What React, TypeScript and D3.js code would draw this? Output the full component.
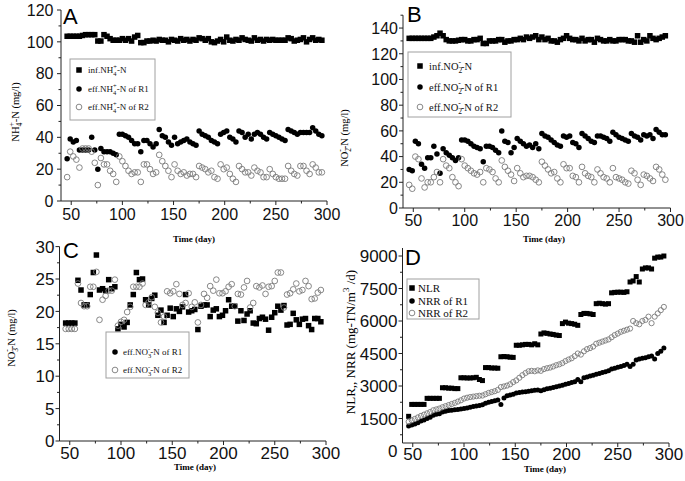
import React from "react";
import * as d3 from "d3";

// ---------- DATA ----------
const days = [46,49,52,55,58,61,64,67,70,73,76,79,82,85,88,91,94,97,100,103,106,109,112,115,118,121,124,127,130,133,136,139,142,145,148,151,154,157,160,163,166,169,172,175,178,181,184,187,190,193,196,199,202,205,208,211,214,217,220,223,226,229,232,235,238,241,244,247,250,253,256,259,262,265,268,271,274,277,280,283,286,289,292,295];

// Panel A: NH4+-N (mg/l)
const aInf = [103.5,103.5,103.5,103.5,103.5,104,104.5,104.5,104.5,104.5,
  100.5,100.5,104.5,103.5,102,101,101,101,102,101,
  102,100.5,103,104,99.5,99.5,100.5,100.5,101,100.5,
  101.5,101,101,100,101.5,101,100.5,102,101,101.5,
  100.5,101.5,101,102.5,102,101,102,100,99.5,100.5,
  101.5,100,103,101,100.5,101.5,101,102.5,101.5,101,
  100.5,102.5,101,101.5,100.5,101.5,101,101.5,101,101,
  101,101,102.5,102,100.5,101,101.5,102.5,100,101.5,
  102.5,101,101.5,101];
const aR1 = [26.5,39,37,38,32,32,32,32,40,32,
  20,33,31,31,31,30,29,42,42,41,
  40,38,36,36,31,38,38,36,34,36,
  45,41,40,37,35,40,36,37,38,39,
  37,36,35,44,42,41,40,38,37,36,
  42,43,44,40,39,37,44,43,40,42,
  39,42,43,42,40,39,43,42,41,40,
  39,38,45,44,43,42,43,43,43,43,
  46,44,42,41];
const aR2 = [15,31,28,26,21,33,33,33,31,24,
  10,27,23,23,19,17,12,28,25,22,
  19,17,18,18,12,23,23,20,17,18,
  29,25,22,19,15,23,19,17,18,16,
  17,17,15,22,21,20,18,19,15,14,
  23,20,21,17,14,12,22,20,18,18,
  16,21,19,18,15,15,20,17,15,14,
  14,14,22,19,17,16,22,22,19,17,
  23,21,18,18];

// Panel B: NO2--N (mg/l)
const bInf = [132,132,132,132,132,132,132,132,133,134,
  136,134,131,130,130,130,130.5,131,131,130,
  130,131,131,132,128,128,130,130,130,131,
  131,129,130,130,131,131,132,131,133,132,
  133,134,131,133,131,132,130,130,129,131,
  132,134,132,131,131,130,132,130,131,131,
  129,132,131,130,130,131,130,130,131,131,
  131,130,130,129,134,129,131,130,134,132,
  131,132,133,134];
const bR1 = [30,29,52,50,34,31,39,39,48,42,
  27,46,43,41,39,37,39,53,53,52,
  50,48,47,46,36,48,48,47,45,43,
  60,52,51,43,47,54,52,50,48,49,
  47,50,46,58,56,55,53,51,49,48,
  56,55,56,51,50,47,58,56,54,52,
  51,56,56,55,54,52,59,57,55,54,
  53,52,58,56,55,53,57,56,57,54,
  61,59,57,57];
const bR2 = [18,15,40,38,23,16,20,20,24,28,
  20,38,33,31,24,20,17,38,33,31,
  29,27,26,28,20,31,30,28,23,20,
  37,32,29,26,21,31,27,24,25,25,
  24,22,20,36,33,30,27,28,23,20,
  34,31,31,25,24,20,32,27,25,24,
  20,30,27,24,23,20,31,24,23,22,
  20,19,29,27,22,18,26,25,23,21,
  32,30,26,22];

// Panel C: NO3--N (mg/l)
const cR1 = [18.2,18.2,18.2,18.2,24.8,23.3,21,21,22.6,26,
  28.7,23.3,23.5,23.2,24.9,23.5,23.8,17.3,18,17.6,
  18.3,21,22.6,26,24.9,25,21.8,21,22,22.5,
  19.4,20.2,18.3,19.4,20.5,19.2,20.4,20,20.7,22.6,
  19.9,20.1,20.3,17.2,20.8,21,21,19.2,20.2,20.4,
  19.2,19.4,20.1,21.8,20.8,20.8,18.5,20.1,18.6,19.6,
  20.1,18.2,18.1,18.9,19.1,18.8,17.1,19.1,19.8,20.8,
  20.2,20.9,17.9,18,19.7,18.7,18,18.8,18.9,17.8,
  17.2,18.9,18.9,18.4];
const cR2 = [17.3,17.3,17.3,17.3,24.3,21.3,20.8,20.8,23.8,23.8,
  26.1,18.7,21.8,22.4,23.2,23.2,24.9,17.8,18.4,18.7,
  19.9,20.7,23.8,23.8,23.8,24.3,21,21.4,22.2,20.7,
  19.8,18.3,19.2,23.1,22.8,23.1,24.2,22.7,21,21.3,
  22.8,20.7,21.4,18.3,21,22.7,22.1,23.9,23.2,24.9,
  22.8,22.8,23.1,23.8,24.2,20.8,22.7,22.6,23.7,24.7,
  20.6,21.3,23.9,23.7,24,22.7,23.8,23.9,24.7,26,
  26,20.6,22.6,22.8,23.4,24.3,23.1,23.3,24.7,23.9,
  21.9,22,22.9,23.3];

// Panel D: NLR, NRR (mg-TN/m3/d)
const dNLR = [1600,2150,2150,2150,2150,2150,2430,2430,2430,2430,
  2430,2920,2920,2900,2900,2880,2880,3380,3380,3370,
  3370,3380,3400,3300,3250,3850,3850,3830,3830,3820,
  4350,4360,4350,4330,4320,4880,4880,4900,4920,4920,
  4900,4950,4900,5400,5450,5430,5400,5380,5350,5330,
  5880,5950,5900,5880,5850,5800,6300,6350,6350,6330,
  6300,6800,6820,6800,6780,6800,7300,7320,7330,7330,
  7320,7350,7800,7850,8050,7800,8400,8450,8450,8400,
  8900,8950,8950,9000];
const dR1 = [1150,1200,1250,1300,1380,1430,1500,1560,1650,1700,
  1720,1800,1840,1870,1880,1900,1920,1940,1960,1990,
  2020,2050,2080,2100,2130,2200,2250,2280,2320,2350,
  2150,2450,2550,2580,2620,2680,2700,2720,2740,2760,
  2780,2800,2810,2780,2830,2870,2900,2930,2960,3000,
  3040,3080,3120,3160,3200,3300,3200,3380,3420,3460,
  3500,3540,3580,3620,3660,3700,3780,3820,3860,3900,
  3950,4000,3900,4000,4200,4250,4280,4300,4350,4380,
  4250,4500,4600,4750];
const dR2 = [1350,1420,1480,1550,1620,1680,1740,1800,1880,1920,
  1960,2020,2070,2120,2170,2220,2280,2340,2420,2460,
  2490,2510,2530,2550,2560,2620,2680,2720,2760,2820,
  2950,2980,3020,3080,3180,3260,3380,3500,3600,3680,
  3700,3680,3720,3700,3780,3820,3850,3900,3960,4000,
  4060,4150,4220,4280,4380,4500,4450,4600,4700,4750,
  4820,4950,5000,5050,5100,5150,5250,5350,5420,5500,
  5550,5600,5650,6000,5900,5850,6000,6050,6200,5900,
  6200,6350,6500,6650];

const xTicks = [50,100,150,200,250,300];
const xMinor = [75,125,175,225,275];
const aTicks = [0,20,40,60,80,100,120];
const bTicks = [0,20,40,60,80,100,120,140];
const cTicks = [0,5,10,15,20,25,30];
const dTicks = [0,1500,3000,4500,6000,7500,9000];

// ---------- DRAWING ----------
const SANS = "'Liberation Sans', Arial, sans-serif";
const SERIF = "'Liberation Serif', 'Times New Roman', serif";
const RING = "#7a7a7a";

type Kind = "square" | "dot" | "ring";

function Mark({ kind, x, y, s }: { kind: Kind; x: number; y: number; s: number }) {
  if (kind === "square") return <rect x={x - s / 2} y={y - s / 2} width={s} height={s} fill="#000" />;
  if (kind === "dot") return <circle cx={x} cy={y} r={s / 2} fill="#000" />;
  return <circle cx={x} cy={y} r={s / 2 - 0.4} fill="none" stroke={RING} strokeWidth={0.9} />;
}

interface Series { values: number[]; kind: Kind; }

function Axes({ x, y, yTicks, yMinor, yBottom, yTop, tickSize, labelShift, xLabelY }: any) {
  const [x0, x1] = x.range();
  return (
    <g fontFamily={SANS} fill="#111">
      <line x1={x0} x2={x1} y1={yBottom} y2={yBottom} stroke="#222" strokeWidth={1} />
      <line x1={x0} x2={x0} y1={yBottom} y2={yTop} stroke="#222" strokeWidth={1} />
      {xTicks.map((t) => (
        <g key={"xt" + t}>
          <line x1={x(t)} x2={x(t)} y1={yBottom} y2={yBottom + 4} stroke="#222" />
          <text x={x(t)} y={xLabelY} textAnchor="middle" fontSize={tickSize}>{t}</text>
        </g>
      ))}
      {xMinor.map((t) => (
        <line key={"xm" + t} x1={x(t)} x2={x(t)} y1={yBottom} y2={yBottom + 2.5} stroke="#222" />
      ))}
      {yTicks.map((t: number) => (
        <g key={"yt" + t}>
          {y(t) <= yBottom + 0.5 && <line x1={x0 - 4} x2={x0} y1={y(t)} y2={y(t)} stroke="#222" />}
          <text x={x0 - 5 - labelShift} y={y(t)} dy="0.36em" textAnchor="end" fontSize={tickSize}>{t}</text>
        </g>
      ))}
      {yMinor.map((t: number) => (
        y(t) <= yBottom + 0.5 && y(t) >= yTop - 0.5 ?
        <line key={"ym" + t} x1={x0 - 2.5} x2={x0} y1={y(t)} y2={y(t)} stroke="#222" /> : null
      ))}
    </g>
  );
}

function Points({ x, y, series, size }: any) {
  return (
    <g>
      {series.map((s: Series, si: number) =>
        s.values.map((v, i) => <Mark key={si + "-" + i} kind={s.kind} x={x(days[i])} y={y(v)} s={size[s.kind]} />)
      )}
    </g>
  );
}

function Legend({ x, y, w, h, rows, fs, mx, tx }: any) {
  return (
    <g>
      <rect x={x} y={y} width={w} height={h} fill="#fff" stroke="#a0a0a0" strokeWidth={1} />
      {rows.map((r: any, i: number) => (
        <g key={i}>
          <Mark kind={r.kind} x={mx} y={r.y} s={r.kind === "ring" ? 6.5 : 5.5} />
          <text x={tx} y={r.y} dy="0.35em" fontSize={fs} fontFamily={SERIF} fill="#111">{r.label}</text>
        </g>
      ))}
    </g>
  );
}

const ion = (base: string, n: string, ch: string, fs: number) => (
  <>
    {base}
    <tspan dy={fs * 0.3} fontSize={fs * 0.72}>{n}</tspan>
    <tspan dy={-fs * 0.75} dx={-fs * 0.36} fontSize={fs * 0.72}>{ch}</tspan>
    <tspan dy={fs * 0.45}>-N</tspan>
  </>
);

export default function App() {
  // scales
  const xA = d3.scaleLinear().domain([40, 300]).range([61, 327]);
  const yA = d3.scaleLinear().domain([0, 120]).range([201, 10]);
  const xB = d3.scaleLinear().domain([40, 300]).range([403, 670.5]);
  const yB = d3.scaleLinear().domain([0, 150]).range([208, 15.2]);
  const xC = d3.scaleLinear().domain([40, 300]).range([59.5, 326]);
  const yC = d3.scaleLinear().domain([0, 30]).range([441, 246.6]);
  const xD = d3.scaleLinear().domain([40, 300]).range([402.5, 669]);
  const yD = d3.scaleLinear().domain([0, 9000]).range([451, 256]);

  const sizeAB = { square: 5.5, dot: 5.5, ring: 6.5 };
  const sizeD = { square: 5, dot: 5, ring: 6 };

  const minor = (t: number[], step: number) => t.slice(0, -1).map((v) => v + step / 2);

  return (
    <svg width={685} height={481} style={{ position: "absolute", left: 0, top: 0, background: "#fff" }}>
      <rect width={685} height={481} fill="#fff" />

      {/* ---- Panel A ---- */}
      <Axes x={xA} y={yA} yTicks={aTicks} yMinor={minor(aTicks, 20)} yBottom={201} yTop={10} tickSize={16} labelShift={2.5} xLabelY={220} />
      <Points x={xA} y={yA} size={sizeAB} series={[
        { values: aInf, kind: "square" }, { values: aR1, kind: "dot" }, { values: aR2, kind: "ring" }]} />
      <Legend x={70} y={59} w={85} h={61} fs={9} mx={79} tx={88} rows={[
        { kind: "square", y: 70, label: <>inf.{ion("NH", "4", "+", 9)}</> },
        { kind: "dot", y: 89, label: <>eff.{ion("NH", "4", "+", 9)} of R1</> },
        { kind: "ring", y: 107, label: <>eff.{ion("NH", "4", "+", 9)} of R2</> }]} />
      <text x={63} y={24} fontFamily={SANS} fontSize={22}>A</text>
      <text transform="translate(19,112) rotate(-90)" textAnchor="middle" fontFamily={SERIF} fontSize={10.5}>
        {ion("NH", "4", "+", 10.5)} (mg/l)
      </text>
      <text x={194} y={242} textAnchor="middle" fontFamily={SERIF} fontSize={9} fontWeight="bold">Time (day)</text>

      {/* ---- Panel B ---- */}
      <Axes x={xB} y={yB} yTicks={bTicks} yMinor={minor(bTicks, 20).concat([150])} yBottom={208} yTop={15.2} tickSize={16} labelShift={0} xLabelY={226} />
      <Points x={xB} y={yB} size={sizeAB} series={[
        { values: bInf, kind: "square" }, { values: bR1, kind: "dot" }, { values: bR2, kind: "ring" }]} />
      <Legend x={408} y={52} w={103} h={65} fs={10.5} mx={420} tx={429} rows={[
        { kind: "square", y: 66, label: <>inf.{ion("NO", "2", "-", 10.5)}</> },
        { kind: "dot", y: 87, label: <>eff.{ion("NO", "2", "-", 10.5)} of R1</> },
        { kind: "ring", y: 107, label: <>eff.{ion("NO", "2", "-", 10.5)} of R2</> }]} />
      <text x={407} y={22} fontFamily={SANS} fontSize={22}>B</text>
      <text transform="translate(348,138) rotate(-90)" textAnchor="middle" fontFamily={SERIF} fontSize={10.5}>
        {ion("NO", "2", "-", 10.5)} (mg/l)
      </text>
      <text x={544} y={242} textAnchor="middle" fontFamily={SERIF} fontSize={9} fontWeight="bold">Time (day)</text>

      {/* ---- Panel C ---- */}
      <Axes x={xC} y={yC} yTicks={cTicks} yMinor={minor(cTicks, 5)} yBottom={441} yTop={246.6} tickSize={17} labelShift={0} xLabelY={459} />
      <Points x={xC} y={yC} size={sizeAB} series={[
        { values: cR1, kind: "square" }, { values: cR2, kind: "ring" }]} />
      <Legend x={106} y={332} w={83} h={46} fs={9} mx={115} tx={123} rows={[
        { kind: "dot", y: 352, label: <>eff.{ion("NO", "3", "-", 9)} of R1</> },
        { kind: "ring", y: 370, label: <>eff.{ion("NO", "3", "-", 9)} of R2</> }]} />
      <text x={63} y={258} fontFamily={SANS} fontSize={22}>C</text>
      <text transform="translate(15,338) rotate(-90)" textAnchor="middle" fontFamily={SERIF} fontSize={10.5}>
        {ion("NO", "3", "-", 10.5)} (mg/l)
      </text>
      <text x={195} y={470} textAnchor="middle" fontFamily={SERIF} fontSize={9} fontWeight="bold">Time (day)</text>

      {/* ---- Panel D ---- */}
      <Axes x={xD} y={yD} yTicks={dTicks} yMinor={minor(dTicks, 1500)} yBottom={443} yTop={248} tickSize={17} labelShift={0} xLabelY={460} />
      <Points x={xD} y={yD} size={sizeD} series={[
        { values: dNLR, kind: "square" }, { values: dR1, kind: "dot" }, { values: dR2, kind: "ring" }]} />
      <Legend x={407} y={279} w={72} h={40} fs={11} mx={412} tx={418} rows={[
        { kind: "square", y: 288, label: "NLR" },
        { kind: "dot", y: 301, label: "NRR of R1" },
        { kind: "ring", y: 313, label: "NRR of R2" }]} />
      <text x={405} y={265} fontFamily={SANS} fontSize={22}>D</text>
      <text transform="translate(355,342) rotate(-90)" textAnchor="middle" fontFamily={SERIF} fontSize={13}>
        NLR,, NRR (mg-TN/m<tspan dy={-6} fontSize={9}>3</tspan><tspan dy={6}> /d)</tspan>
      </text>
      <text x={545} y={472} textAnchor="middle" fontFamily={SERIF} fontSize={9} fontWeight="bold">Time (day)</text>
    </svg>
  );
}
